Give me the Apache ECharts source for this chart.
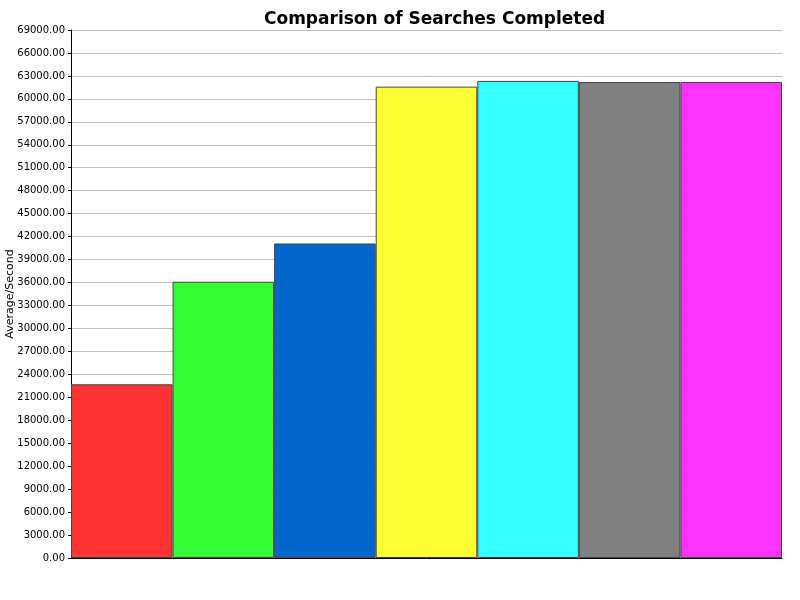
<!DOCTYPE html>
<html>
<head>
<meta charset="utf-8">
<script src="https://cdn.jsdelivr.net/npm/echarts@6/dist/echarts.min.js"></script>
<style>
  html, body { margin: 0; padding: 0; background: #fff; }
  #chart { width: 800px; height: 600px; }
</style>
</head>
<body>
<div id="chart"></div>
<script>
// data
var categories = ['S1', 'S2', 'S3', 'S4', 'S5', 'S6', 'S7'];
var values = [22700, 36100, 41100, 61600, 62350, 62200, 62200];
var barColors = ['#ff3333', '#33ff33', '#0066cc', '#ffff33', '#33ffff', '#808080', '#ff33ff'];

var chart = echarts.init(document.getElementById('chart'));

var option = {
    backgroundColor: '#fff',
    animation: false,
    title: {
        text: 'Comparison of Searches Completed',
        left: 259,
        top: 6,
        textStyle: { fontFamily: 'DejaVu Sans', fontSize: 17, fontWeight: 'bold', color: '#000' }
    },
    grid: { left: 71, right: 18, top: 30, bottom: 42, containLabel: false, outerBoundsMode: 'none' },
    xAxis: {
        type: 'category',
        data: categories,
        axisLine: { lineStyle: { color: '#000', width: 1 } },
        axisTick: { show: false },
        axisLabel: { show: false }
    },
    yAxis: {
        type: 'value',
        min: 0,
        max: 69000,
        interval: 3000,
        name: 'Average/Second',
        nameLocation: 'middle',
        nameGap: 55,
        nameMoveOverlap: false,
        nameTextStyle: { fontFamily: 'DejaVu Sans', fontSize: 11, color: '#000' },
        axisLine: { show: true, lineStyle: { color: '#000', width: 1 } },
        axisTick: { show: true, length: 3, lineStyle: { color: '#000' } },
        axisLabel: {
            fontFamily: 'DejaVu Sans', fontSize: 10, color: '#000', margin: 6,
            formatter: function (v) { return v.toFixed(2); }
        },
        splitLine: { lineStyle: { color: '#c0c0c0', width: 1 } }
    },
    series: [{
        type: 'bar',
        barCategoryGap: '0%',
        data: values.map(function (v, i) {
            return { value: v, itemStyle: { color: barColors[i] } };
        }),
        itemStyle: { borderColor: '#444', borderWidth: 1 }
    }]
};

chart.setOption(option);
</script>
</body>
</html>
